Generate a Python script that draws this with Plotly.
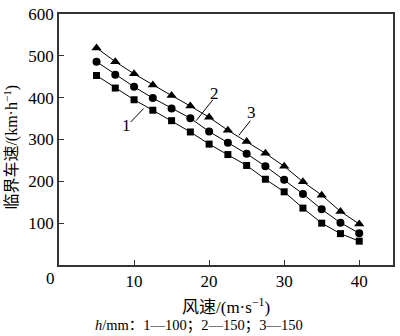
import plotly.graph_objects as go

wind = [5, 7.5, 10, 12.5, 15, 17.5, 20, 22.5, 25, 27.5, 30, 32.5, 35, 37.5, 40]
speed1 = [453, 423, 395, 370, 345, 318, 289, 264, 238, 205, 175, 136, 100, 75, 57]
speed2 = [486, 455, 426, 399, 374, 351, 319, 292, 266, 236, 204, 170, 133, 101, 76]
speed3 = [519, 486, 457, 430, 405, 380, 353, 322, 295, 267, 236, 199, 167, 128, 98]
xticks = [10, 20, 30, 40]
yticks = [100, 200, 300, 400, 500, 600]

FONT = "Liberation Serif, Times New Roman, Noto Sans CJK SC, serif"
AX = "#333333"

fig = go.Figure()
for ys, sym, sz in [(speed1, "square", 7), (speed2, "circle", 8), (speed3, "triangle-up", 9)]:
    fig.add_trace(go.Scatter(
        x=wind, y=ys, mode="lines+markers",
        line=dict(color="black", width=1),
        marker=dict(symbol=sym, size=sz, color="black"),
        showlegend=False, cliponaxis=False))

# leader lines for labels
for (x0, y0, x1, y1) in [(9.56, 342, 11.28, 374), (20.5, 395, 18.28, 345), (25.5, 345, 23.96, 310)]:
    fig.add_shape(type="line", xref="x", yref="y", x0=x0, y0=y0, x1=x1, y1=y1,
                  line=dict(color="black", width=1))

anns = [
    dict(x=9.04, y=333, text="1"),
    dict(x=20.66, y=411, text="2"),
    dict(x=25.7, y=364, text="3"),
]
for a in anns:
    fig.add_annotation(x=a["x"], y=a["y"], xref="x", yref="y", text=a["text"],
                       showarrow=False, font=dict(family=FONT, size=17, color="black"))

fig.add_annotation(x=0, y=0, xref="x", yref="y", text="0", showarrow=False,
                   xanchor="right", yanchor="top", xshift=-2, yshift=-2,
                   font=dict(family=FONT, size=17, color="black"))
fig.add_annotation(x=0.5, y=-0.11, xref="paper", yref="paper", yanchor="top",
                   text="风速/(m·s<sup>−1</sup>)", showarrow=False,
                   font=dict(family=FONT, size=17, color="black"))
fig.add_annotation(x=0.42, y=-0.2, xref="paper", yref="paper", yanchor="top",
                   text="<i>h</i>/mm：1—100；2—150；3—150", showarrow=False,
                   font=dict(family=FONT, size=14.5, color="black"))
fig.add_annotation(x=-0.145, y=0.47, xref="paper", yref="paper", textangle=-90,
                   text="临界车速/(km·h<sup>−1</sup>)", showarrow=False,
                   xanchor="center", yanchor="middle",
                   font=dict(family=FONT, size=16, color="black"))

fig.update_layout(
    width=400, height=336,
    margin=dict(l=59, r=5, t=8, b=71),
    paper_bgcolor="white", plot_bgcolor="white",
    font=dict(family=FONT, size=17, color="black"),
    xaxis=dict(range=[0, 44.5], tickvals=xticks, ticks="inside", ticklen=5,
               tickcolor=AX, showline=True, linecolor=AX, linewidth=1.5,
               mirror=True, showgrid=False, zeroline=False,
               ticklabeloverflow="allow",
               tickfont=dict(family=FONT, size=17, color="black")),
    yaxis=dict(range=[0, 600], tickvals=yticks, ticks="inside", ticklen=5,
               tickcolor=AX, showline=True, linecolor=AX, linewidth=1.5,
               mirror=True, showgrid=False, zeroline=False,
               ticklabeloverflow="allow",
               tickfont=dict(family=FONT, size=17, color="black")),
)
fig.write_html("out.html")
